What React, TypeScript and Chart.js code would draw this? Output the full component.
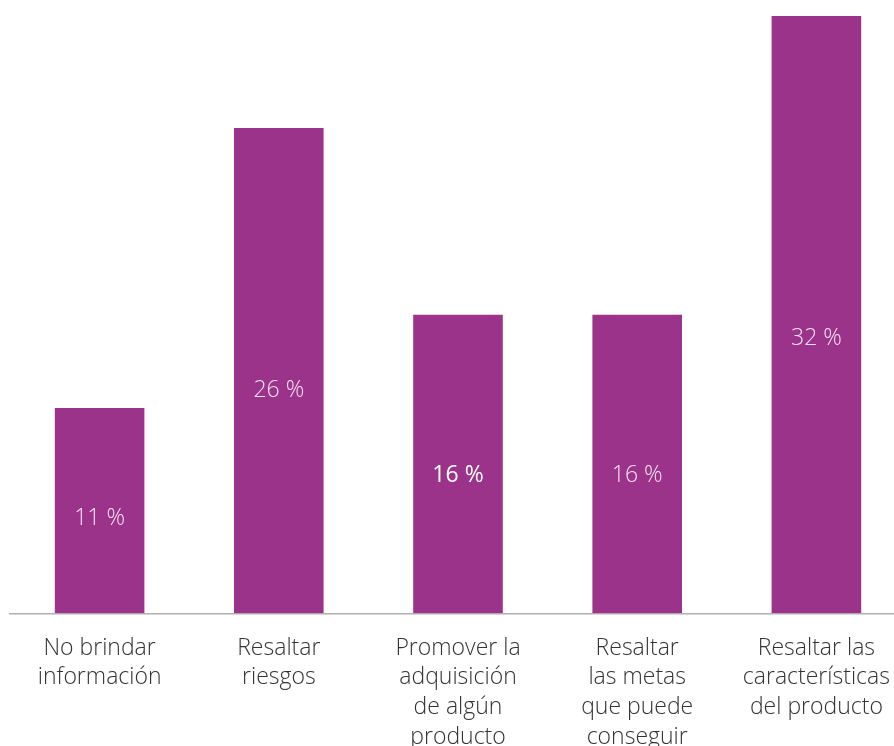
import React, { useEffect, useRef } from "react";
import { Chart, registerables } from "chart.js";

Chart.register(...registerables);

const categories: string[][] = [
  ["No brindar", "información"],
  ["Resaltar", "riesgos"],
  ["Promover la", "adquisición", "de algún", "producto"],
  ["Resaltar", "las metas", "que puede", "conseguir"],
  ["Resaltar las", "características", "del producto"],
];
const values: number[] = [11, 26, 16, 16, 32];
const valueLabels: string[] = ["11 %", "26 %", "16 %", "16 %", "32 %"];

const BAR_COLOR = "#9c338a";
const FONT = "'Open Sans', 'Noto Sans', sans-serif";

const valueLabelPlugin = {
  id: "valueLabels",
  afterDatasetsDraw(chart: any) {
    const { ctx } = chart;
    const meta = chart.getDatasetMeta(0);
    const yScale = chart.scales.y;
    ctx.save();
    ctx.textAlign = "center";
    ctx.textBaseline = "middle";
    meta.data.forEach((bar: any, i: number) => {
      const y = yScale.getPixelForValue(values[i] * 0.46);
      ctx.font = `${i === 2 ? 400 : 300} 23px ${FONT}`;
      ctx.fillStyle = i === 2 ? "#ffffff" : "#f3e3f0";
      ctx.fillText(valueLabels[i], bar.x, y);
    });
    ctx.restore();
  },
};

export default function App() {
  const ref = useRef<HTMLCanvasElement>(null);
  useEffect(() => {
    if (!ref.current) return;
    const chart = new Chart(ref.current, {
      type: "bar",
      data: {
        labels: categories,
        datasets: [
          {
            data: values,
            backgroundColor: BAR_COLOR,
            barPercentage: 0.5,
            categoryPercentage: 1,
          },
        ],
      },
      options: {
        responsive: false,
        animation: false,
        maintainAspectRatio: false,
        layout: { padding: { left: 10, right: 0, top: 16, bottom: 0 } },
        plugins: { legend: { display: false }, tooltip: { enabled: false } },
        scales: {
          x: {
            grid: { display: false },
            border: { display: true, color: "#b0b0b0", width: 1.5 },
            ticks: {
              color: "#333333",
              font: { family: FONT, size: 23, weight: 300, lineHeight: 1.29 },
              padding: 12,
              maxRotation: 0,
              autoSkip: false,
            },
          },
          y: {
            display: false,
            min: 0,
            max: 32,
          },
        },
      },
      plugins: [valueLabelPlugin],
    });
    return () => chart.destroy();
  }, []);
  return (
    <div
      style={{
        position: "absolute",
        left: 0,
        top: 0,
        width: 894,
        height: 746,
        overflow: "hidden",
        background: "#fff",
      }}
    >
      <canvas ref={ref} width={906} height={764} style={{ display: "block" }} />
    </div>
  );
}
